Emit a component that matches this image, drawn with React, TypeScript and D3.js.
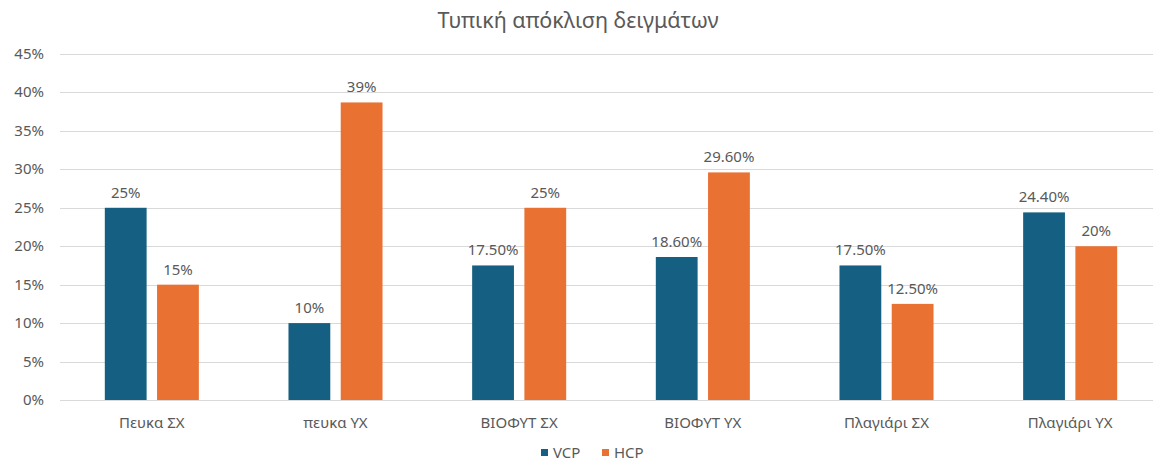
import React, { useEffect, useRef } from "react";
import * as d3 from "d3";

const categories = ["Πευκα ΣΧ", "πευκα ΥΧ", "ΒΙΟΦΥΤ ΣΧ", "ΒΙΟΦΥΤ ΥΧ", "Πλαγιάρι ΣΧ", "Πλαγιάρι ΥΧ"];
const seriesNames = ["VCP", "HCP"];
const vcpValues = [25, 10, 17.5, 18.6, 17.5, 24.4];
const hcpValues = [15, 38.7, 25, 29.6, 12.5, 20];
const vcpLabels = ["25%", "10%", "17.50%", "18.60%", "17.50%", "24.40%"];
const hcpLabels = ["15%", "39%", "25%", "29.60%", "12.50%", "20%"];
const yTicks = [0, 5, 10, 15, 20, 25, 30, 35, 40, 45];
const colors = ["#156082", "#E97132"];

const W = 1153;
const H = 468;
const FONT = "'Noto Sans', sans-serif";
const TEXT = "#595959";

const App = () => {
  const ref = useRef<SVGSVGElement>(null);

  useEffect(() => {
    const svg = d3.select(ref.current);
    svg.selectAll("*").remove();

    const left = 60;
    const right = 1162;
    const top = 54;
    const bottom = 400;

    const x0 = d3.scaleBand().domain(categories).range([left, right]);
    const off = x0.bandwidth() * 0.244;
    const x1 = d3
      .scaleBand()
      .domain(seriesNames)
      .range([off, x0.bandwidth() - off])
      .paddingInner(0.2);
    const y = d3.scaleLinear().domain([0, 45]).range([bottom, top]);

    // title
    svg
      .append("text")
      .attr("x", 578)
      .attr("y", 28)
      .attr("text-anchor", "middle")
      .style("font-size", "21.5px")
      .style("fill", TEXT)
      .text("Τυπική απόκλιση δειγμάτων");

    // grid + y labels
    const g = svg.append("g");
    g.selectAll(".grid")
      .data(yTicks)
      .enter()
      .append("line")
      .attr("x1", left)
      .attr("x2", W)
      .attr("y1", (d) => Math.round(y(d)) + 0.5)
      .attr("y2", (d) => Math.round(y(d)) + 0.5)
      .attr("stroke", "#d9d9d9")
      .attr("stroke-width", 1);

    g.selectAll(".ylab")
      .data(yTicks)
      .enter()
      .append("text")
      .attr("x", 44)
      .attr("y", (d) => y(d) + 5)
      .attr("text-anchor", "end")
      .style("font-size", "15px")
      .style("fill", TEXT)
      .text((d) => d + "%");

    const rows = categories.flatMap((c, i) => [
      { cat: c, s: "VCP", v: vcpValues[i], label: vcpLabels[i] },
      { cat: c, s: "HCP", v: hcpValues[i], label: hcpLabels[i] },
    ]);

    svg
      .selectAll(".bar")
      .data(rows)
      .enter()
      .append("rect")
      .attr("x", (d) => x0(d.cat)! + x1(d.s)!)
      .attr("width", x1.bandwidth())
      .attr("y", (d) => y(d.v))
      .attr("height", (d) => bottom - y(d.v))
      .attr("fill", (d) => colors[seriesNames.indexOf(d.s)]);

    // bottom axis line redraw on top
    svg
      .append("line")
      .attr("x1", left)
      .attr("x2", W)
      .attr("y1", bottom + 0.5)
      .attr("y2", bottom + 0.5)
      .attr("stroke", "#d9d9d9");

    svg
      .selectAll(".vlab")
      .data(rows)
      .enter()
      .append("text")
      .attr("x", (d) => x0(d.cat)! + x1(d.s)! + x1.bandwidth() / 2)
      .attr("y", (d) => y(d.v) - 10)
      .attr("text-anchor", "middle")
      .style("font-size", "15px")
      .style("fill", TEXT)
      .text((d) => d.label);

    svg
      .selectAll(".xlab")
      .data(categories)
      .enter()
      .append("text")
      .attr("x", (d) => x0(d)! + x0.bandwidth() / 2)
      .attr("y", 428)
      .attr("text-anchor", "middle")
      .style("font-size", "15px")
      .style("fill", TEXT)
      .text((d) => d);

    // legend
    const legend = svg.append("g").attr("transform", "translate(541,453)");
    const lx = [0, 61];
    seriesNames.forEach((s, i) => {
      legend
        .append("rect")
        .attr("x", lx[i])
        .attr("y", -4)
        .attr("width", 7)
        .attr("height", 7)
        .attr("fill", colors[i]);
      legend
        .append("text")
        .attr("x", lx[i] + 12)
        .attr("y", 5)
        .style("font-size", "15px")
        .style("fill", TEXT)
        .text(s);
    });
  }, []);

  return (
    <svg
      ref={ref}
      width={W}
      height={H}
      style={{ position: "absolute", left: 0, top: 0, background: "#fff", fontFamily: FONT }}
    />
  );
};

export default App;
